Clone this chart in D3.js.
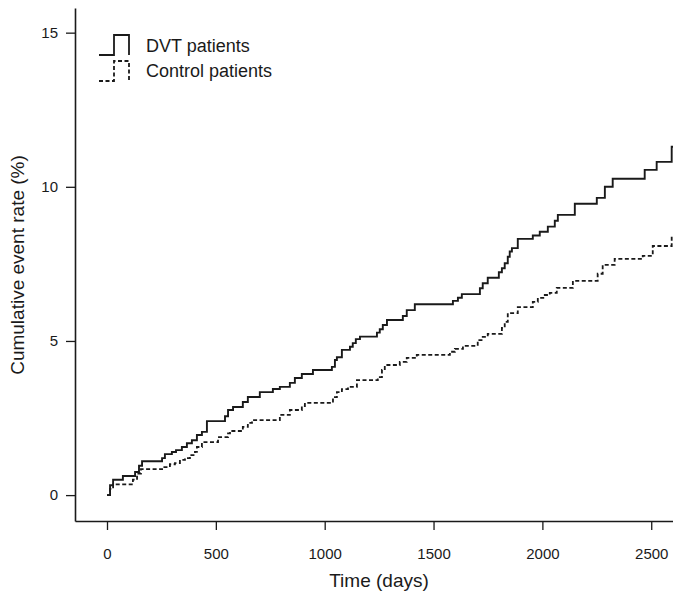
<!DOCTYPE html>
<html>
<head>
<meta charset="utf-8">
<script src="https://cdn.jsdelivr.net/npm/d3@7"></script>
<style>
  html, body { margin: 0; padding: 0; background: #fff; }
  svg { display: block; font-family: "Liberation Sans", Arial, Helvetica, sans-serif; }
</style>
</head>
<body>
<svg id="chart" width="673" height="594"></svg>
<script>
// Cumulative event rate (%) step data
const dvtDays = [0, 14, 28, 73, 129, 147, 161, 253, 266, 298, 317, 344, 367, 390, 413, 436, 459,
  542, 556, 579, 624, 647, 702, 762, 794, 840, 863, 895, 946, 1033, 1047, 1056, 1079, 1116, 1129,
  1143, 1162, 1240, 1253, 1267, 1286, 1359, 1377, 1414, 1589, 1612, 1630, 1713, 1726, 1749, 1800,
  1814, 1827, 1841, 1850, 1860, 1887, 1956, 1988, 2025, 2057, 2071, 2149, 2250, 2287, 2323, 2470,
  2525, 2594, 2600];
const dvtRate = [0, 0.32, 0.5, 0.62, 0.75, 0.95, 1.1, 1.2, 1.33, 1.4, 1.46, 1.56, 1.68, 1.78, 1.95, 2.05, 2.4,
  2.56, 2.76, 2.86, 3.02, 3.18, 3.34, 3.44, 3.51, 3.64, 3.8, 3.93, 4.06, 4.16, 4.38, 4.47, 4.71, 4.81, 4.93,
  5.06, 5.14, 5.27, 5.38, 5.52, 5.68, 5.81, 6.0, 6.19, 6.3, 6.4, 6.52, 6.71, 6.87, 7.05, 7.23,
  7.36, 7.52, 7.73, 7.9, 8.01, 8.31, 8.42, 8.54, 8.71, 8.9, 9.09, 9.45, 9.64, 10.0, 10.26, 10.55,
  10.81, 11.3, 11.3];

const controlDays = [0, 14, 28, 119, 138, 156, 253, 289, 312, 335, 358, 381, 404, 413, 436, 510, 556,
  565, 624, 647, 666, 794, 840, 895, 909, 1038, 1056, 1079, 1107, 1148, 1244, 1263, 1276, 1345, 1377,
  1423, 1575, 1598, 1635, 1703, 1726, 1749, 1814, 1827, 1841, 1887, 1956, 1979, 2011, 2034, 2066,
  2140, 2254, 2277, 2332, 2461, 2507, 2594, 2600];
const controlRate = [0, 0.2, 0.35, 0.5, 0.7, 0.84, 0.91, 1.0, 1.04, 1.14, 1.2, 1.3, 1.4, 1.56, 1.72, 1.88, 2.0,
  2.08, 2.21, 2.34, 2.43, 2.6, 2.76, 2.89, 2.99, 3.18, 3.34, 3.44, 3.51, 3.73, 3.83, 4.06, 4.22, 4.32, 4.45,
  4.55, 4.65, 4.74, 4.84, 5.03, 5.13, 5.23, 5.42, 5.62, 5.9, 6.1, 6.27, 6.4, 6.49, 6.56, 6.72,
  6.95, 7.18, 7.47, 7.66, 7.76, 8.08, 8.38, 8.38];

const xTicks = [0, 500, 1000, 1500, 2000, 2500];
const yTicks = [0, 5, 10, 15];
const seriesNames = ["DVT patients", "Control patients"];

const svg = d3.select("#chart");
const x = d3.scaleLinear().domain([-147, 2600]).range([75, 673]);
const y = d3.scaleLinear().domain([-0.84, 15.8]).range([521, 8]);

const ink = "#1a1a1a";

// X axis
const xAxis = svg.append("g")
  .attr("transform", "translate(0,521)")
  .call(d3.axisBottom(x).tickValues(xTicks).tickSize(9).tickPadding(18).tickSizeOuter(0).tickFormat(d3.format("d")));
// Y axis
const yAxis = svg.append("g")
  .attr("transform", "translate(75,0)")
  .call(d3.axisLeft(y).tickValues(yTicks).tickSize(9).tickPadding(8).tickSizeOuter(0).tickFormat(d3.format("d")));

[xAxis, yAxis].forEach(g => {
  g.select(".domain").attr("stroke", ink).attr("stroke-width", 1.6);
  g.selectAll(".tick line").attr("stroke", ink).attr("stroke-width", 1.3);
  g.selectAll(".tick text").attr("fill", ink).style("font-size", "15px").style("font-family", "'Liberation Sans', Arial, sans-serif");
});

// Axis titles
svg.append("text")
  .attr("x", 379).attr("y", 587)
  .attr("text-anchor", "middle")
  .attr("fill", ink)
  .style("font-size", "19px")
  .text("Time (days)");

svg.append("text")
  .attr("transform", "translate(24,265) rotate(-90)")
  .attr("text-anchor", "middle")
  .attr("fill", ink)
  .style("font-size", "19px")
  .text("Cumulative event rate (%)");

// Step lines
const line = d3.line().curve(d3.curveStepAfter).x(d => x(d[0])).y(d => y(d[1]));
const dvtData = dvtDays.map((d, i) => [d, dvtRate[i]]);
const ctlData = controlDays.map((d, i) => [d, controlRate[i]]);

svg.append("path").datum(ctlData)
  .attr("d", line).attr("fill", "none").attr("stroke", ink)
  .attr("stroke-width", 1.8).attr("stroke-dasharray", "4,2.5");
svg.append("path").datum(dvtData)
  .attr("d", line).attr("fill", "none").attr("stroke", ink)
  .attr("stroke-width", 1.9);

// Legend
const legendSym = (g, dashed) => {
  g.append("path")
    .attr("d", "M0,20 H15 V0 H30 V20")
    .attr("fill", "none").attr("stroke", ink).attr("stroke-width", 1.8)
    .attr("stroke-dasharray", dashed ? "4,2.5" : null);
};
const lg1 = svg.append("g").attr("transform", "translate(99,35)");
legendSym(lg1, false);
svg.append("text").attr("x", 146).attr("y", 52).attr("fill", ink).style("font-size", "18px").text(seriesNames[0]);
const lg2 = svg.append("g").attr("transform", "translate(99,61)");
legendSym(lg2, true);
svg.append("text").attr("x", 146).attr("y", 77).attr("fill", ink).style("font-size", "18px").text(seriesNames[1]);
</script>
</body>
</html>
